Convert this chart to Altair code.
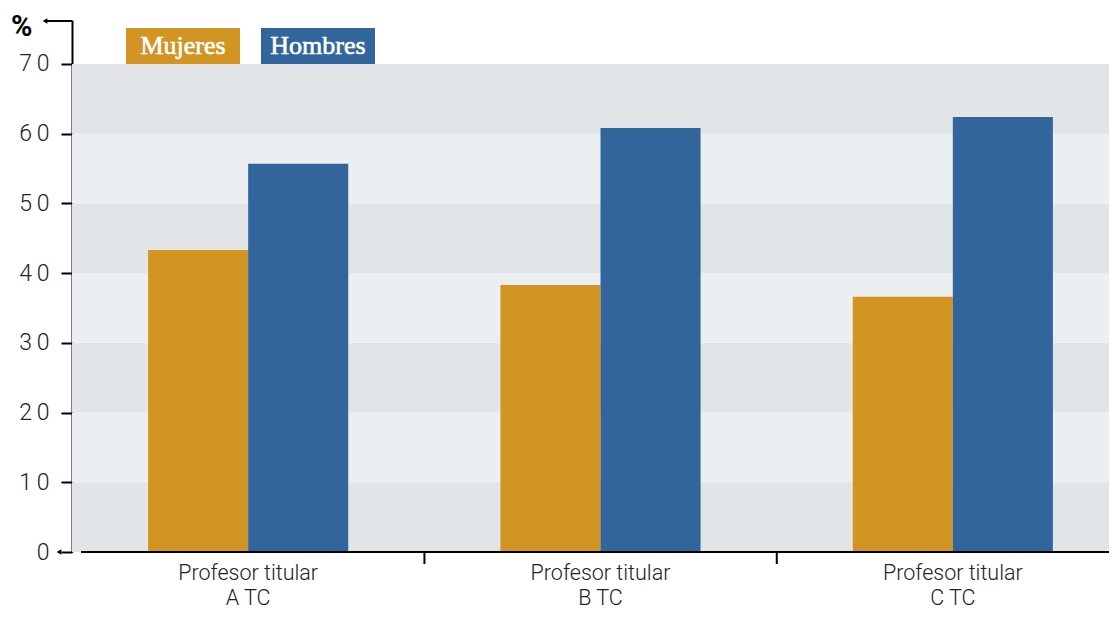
import altair as alt
import pandas as pd

# ---- data ----
categories = ["Profesor titular A TC", "Profesor titular B TC", "Profesor titular C TC"]
genders = ["Mujeres", "Hombres"]
mujeres = [43.3, 38.3, 36.6]
hombres = [55.7, 60.8, 62.4]
y_ticks = [0, 10, 20, 30, 40, 50, 60, 70]
band_lo = [0, 10, 20, 30, 40, 50, 60]
band_hi = [10, 20, 30, 40, 50, 60, 70]

colors = ["#D29423", "#31659C"]
band_colors = ["#E1E5E8", "#EBEFF2"]

W, H = 1037, 532
FONT = "Roboto"

rows = []
for c, m, h in zip(categories, mujeres, hombres):
    rows.append({"cat": c, "gender": "Mujeres", "value": m})
    rows.append({"cat": c, "gender": "Hombres", "value": h})
bars_df = pd.DataFrame(rows)

bands_df = pd.DataFrame({"lo": band_lo, "hi": band_hi,
                         "shade": ["a" if i % 2 == 0 else "b" for i in range(len(band_lo))]})

yscale = alt.Scale(domain=[0, 76.3], nice=False, zero=True)
xscale = alt.Scale(domain=categories, range=[0, 1057], paddingInner=0.432, paddingOuter=0.216)

yaxis = alt.Axis(values=y_ticks, title=None, grid=False,
                 labelExpr="datum.value == 0 ? '0' : floor(datum.value/10) + '\u2009' + '0'",
                 tickSize=11, tickWidth=2, tickColor="#000", domainColor="#000", domainWidth=2,
                 labelFontSize=23, labelPadding=12, labelFont=FONT, labelFontWeight=300,
                 labelColor="#222")
xaxis = alt.Axis(title=None, domain=False, ticks=False, labelAngle=0,
                 labelExpr="[slice(datum.label, 0, 16), slice(datum.label, 17)]",
                 labelFontSize=21.5, labelLineHeight=25.8, labelPadding=10,
                 labelFont=FONT, labelFontWeight=300, labelColor="#222")

bands = alt.Chart(bands_df).mark_rect().encode(
    x=alt.value(0), x2=alt.value(W),
    y=alt.Y("lo:Q", scale=yscale, axis=yaxis), y2="hi:Q",
    fill=alt.Fill("shade:N", scale=alt.Scale(domain=["a", "b"], range=band_colors), legend=None),
)

bars = alt.Chart(bars_df).mark_bar().encode(
    x=alt.X("cat:N", scale=xscale, axis=xaxis, sort=categories),
    xOffset=alt.XOffset("gender:N", sort=genders, scale=alt.Scale(domain=genders, paddingInner=0, paddingOuter=0)),
    y=alt.Y("value:Q", scale=yscale, axis=yaxis),
    color=alt.Color("gender:N", scale=alt.Scale(domain=genders, range=colors), legend=None),
)

one = pd.DataFrame({"a": [0]})
xline = alt.Chart(one).mark_rule(color="#000", strokeWidth=2).encode(
    x=alt.value(9), x2=alt.value(W), y=alt.value(H)
)

div_df = pd.DataFrame({"cat": categories[1:]})
dividers = alt.Chart(div_df).mark_rule(color="#000", strokeWidth=2).encode(
    x=alt.X("cat:N", scale=xscale, axis=xaxis, bandPosition=0),
    xOffset=alt.value(-76),
    y=alt.value(H), y2=alt.value(H + 12),
)

top_rule = alt.Chart(one).mark_rule(color="#000", strokeWidth=2).encode(
    x=alt.value(-26), x2=alt.value(0), y=alt.value(1)
)
top_arrow = alt.Chart(one).mark_point(shape="triangle-left", filled=True, color="#000", size=30, opacity=1).encode(
    x=alt.value(-27), y=alt.value(1)
)
bot_arrow = alt.Chart(one).mark_point(shape="triangle-left", filled=True, color="#000", size=30, opacity=1).encode(
    x=alt.value(-13), y=alt.value(H)
)
pct = alt.Chart(one).mark_text(text="%", fontSize=29, fontWeight="bold", font=FONT, align="left",
                               baseline="middle", color="#000").encode(
    x=alt.value(-61), y=alt.value(7)
)

legend_layers = []
leg_x = [54, 189]
for g, col, lx in zip(genders, colors, leg_x):
    legend_layers.append(alt.Chart(one).mark_rect(color=col).encode(
        x=alt.value(lx), x2=alt.value(lx + 114), y=alt.value(8), y2=alt.value(44)))
    legend_layers.append(alt.Chart(one).mark_text(text=g, font="Liberation Serif", fontSize=26,
                                                 color="#fff", stroke="#fff", strokeWidth=0.6,
                                                 align="center", baseline="alphabetic").encode(
        x=alt.value(lx + 57), y=alt.value(33.5)))

chart = alt.layer(bands, bars, xline, dividers, top_rule, top_arrow, bot_arrow, pct, *legend_layers).properties(
    width=W, height=H,
    autosize=alt.AutoSizeParams(type="none"),
    padding={"left": 64, "top": 12, "right": 0, "bottom": 58},
    background="#ffffff",
).configure_view(strokeWidth=0, stroke="transparent")

chart.save("out.html", embed_options={"renderer": "svg", "actions": False})
